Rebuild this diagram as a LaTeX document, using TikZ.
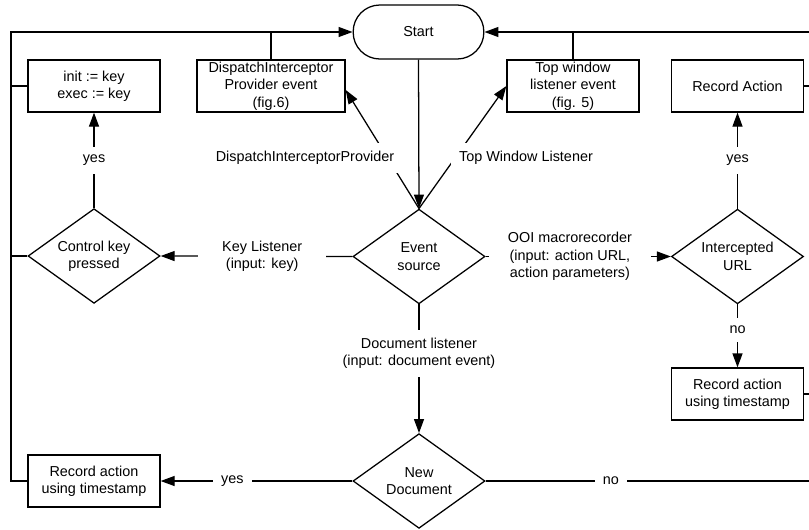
\documentclass[tikz,border=0pt]{standalone}
\usepackage{fontspec}
\setmainfont{Liberation Sans}
\usetikzlibrary{shapes.geometric,arrows.meta}

\begin{document}
\begin{tikzpicture}[x=0.75pt,y=-0.75pt,line width=0.95pt,
  >={Triangle[length=10.5pt,width=7.5pt]},
  every node/.style={font=\fontsize{10.8}{13}\selectfont,align=center},
  box/.style={draw,rectangle,minimum width=99pt,minimum height=39pt,inner sep=1pt},
  decision/.style={draw,diamond,aspect=1.4,minimum width=99pt,minimum height=71pt,inner sep=0pt},
  lbl/.style={fill=white,inner sep=6pt}]
\useasboundingbox (0,0) rectangle (809,529);
\clip (0,0) rectangle (809,529);

% boxes and decisions
\node [draw,rounded corners=20pt,minimum width=98pt,minimum height=40.5pt] (start) at (418.5,32) {Start};
\node [box] (initbox) at (94,86) {init := key\\exec := key};
\node [box,minimum width=111pt] (dipbox) at (271,86) {DispatchInterceptor\\Provider event\\(fig.6)};
\node [box] (topbox) at (573,86) {Top window\\listener event\\(fig. 5)};
\node [box] (recbox) at (737.5,86) {Record Action};
\node [decision] (ctrlkey) at (94,256) {Control key\\pressed};
\node [decision] (evsource) at (419,256.5) {Event\\source};
\node [decision] (urlcheck) at (737.5,256.5) {Intercepted\\URL};
\node [box] (timeright) at (737.5,394) {Record action\\using timestamp};
\node [decision] (newdoc) at (419,481) {New\\Document};
\node [box] (timeleft) at (94,481) {Record action\\using timestamp};

\coordinate (lefttop) at (11,32);
\coordinate (leftbot) at (11,481);
\coordinate (righttop) at (815,32);
\coordinate (rightbot) at (815,481);

% loops back to start
\draw [->] (timeleft.west) -- (leftbot) -- (lefttop) -- (start.west);
\draw (initbox.west) -- (initbox.west -| lefttop);
\draw (ctrlkey.west) -- (ctrlkey.west -| lefttop);
\draw (dipbox.north) -- (dipbox.north |- start.west);
\draw (topbox.north) -- (topbox.north |- start.east);
\draw [->] (newdoc.east) -- node[lbl,pos=0.38] {no} (rightbot) -- (righttop) -- (start.east);
\draw (recbox.east) -- (recbox.east -| righttop);
\draw (timeright.east) -- (timeright.east -| righttop);

% event source
\draw [->] (start.south) -- (evsource.north);
\draw [->] (evsource.north) -- (dipbox.-3);
\draw [->] (evsource.north) -- (topbox.west);
\node [lbl] (dipname) at (305,158) {DispatchInterceptorProvider};
\node [lbl] (topname) at (526,158) {Top Window Listener};

\draw [->] (evsource.west) -- node[lbl,inner xsep=18pt,pos=0.47] {Key Listener\\(input: key)} (ctrlkey.east);
\draw [->] (ctrlkey.north) -- node[lbl] {yes} (initbox.south);
\draw [->] (evsource.east) -- node[lbl,inner xsep=14pt,pos=0.455] {OOI macrorecorder\\(input: action URL,\\action parameters)} (urlcheck.west);
\draw [->] (urlcheck.north) -- node[lbl] {yes} (recbox.south);
\draw [->] (urlcheck.south) -- node[lbl,pos=0.4] {no} (timeright.north);
\draw [->] (evsource.south) -- node[lbl,pos=0.38] {Document listener\\(input: document event)} (newdoc.north);
\draw [->] (newdoc.west) -- node[lbl,pos=0.626] {yes} (timeleft.east);

\end{tikzpicture}
\end{document}
